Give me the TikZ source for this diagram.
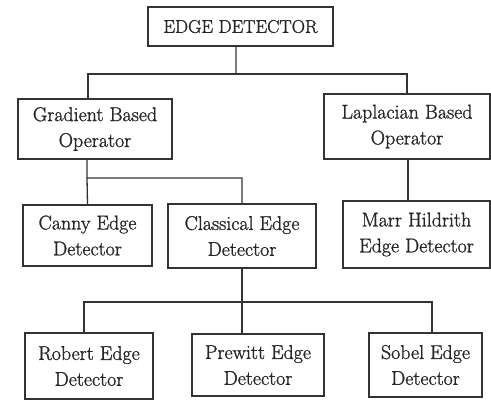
\documentclass[tikz,border=0pt]{standalone}
\usepackage{fontspec}
\setmainfont{Latin Modern Roman}[RawFeature={embolden=1.2}]
\begin{document}
\begin{tikzpicture}[x=1bp,y=-1bp,
  box/.style={draw=black!80,line width=1.3bp,fill=white,inner sep=0pt,align=center,text=black!85,
    font=\fontsize{20}{26}\selectfont},
  conn/.style={draw=black!80,line width=1.3bp}]
\useasboundingbox (0,0) rectangle (491,400);
\node[box,minimum width=185bp,minimum height=39bp,font=\fontsize{18.5}{24}\selectfont] (top) at (240.5,26.5) {EDGE DETECTOR};
\node[box,minimum width=154bp,minimum height=60bp] (grad) at (95,129) {Gradient Based\\Operator};
\node[box,minimum width=166bp,minimum height=65bp] (lap) at (407,126.5) {Laplacian Based\\Operator};
\node[box,minimum width=129bp,minimum height=61bp] (canny) at (87.5,235.5) {Canny Edge\\Detector};
\node[box,minimum width=148bp,minimum height=64bp] (classical) at (242,236) {Classical Edge\\Detector};
\node[box,minimum width=147bp,minimum height=67bp] (marr) at (416.5,234.5) {Marr Hildrith\\Edge Detector};
\node[box,minimum width=128bp,minimum height=66bp] (robert) at (89,366) {Robert Edge\\Detector};
\node[box,minimum width=132bp,minimum height=62bp] (prewitt) at (258,365) {Prewitt Edge\\Detector};
\node[box,minimum width=113bp,minimum height=64bp] (sobel) at (425.5,365) {Sobel Edge\\Detector};
\coordinate (j1) at (236,74);
\coordinate (j2) at (87,178);
\coordinate (j3) at (242,302);
\draw[conn] ([xshift=-4.5bp]top.south) -- (j1);
\draw[conn] ([xshift=-7bp]grad.north) |- (j1) -| (lap.north);
\draw[conn] ([xshift=-8bp]grad.south) -- (j2) -| (classical.north);
\draw[conn] (j2) -- (canny.north);
\draw[conn] ([xshift=1bp]lap.south) -- ([xshift=1bp]lap.south |- marr.north);
\draw[conn] (classical.south) -- (j3);
\draw[conn] ([xshift=-5bp]robert.north) |- (j3) -| ([xshift=6.5bp]sobel.north);
\draw[conn] (j3) -- (j3 |- prewitt.north);
\end{tikzpicture}
\end{document}
